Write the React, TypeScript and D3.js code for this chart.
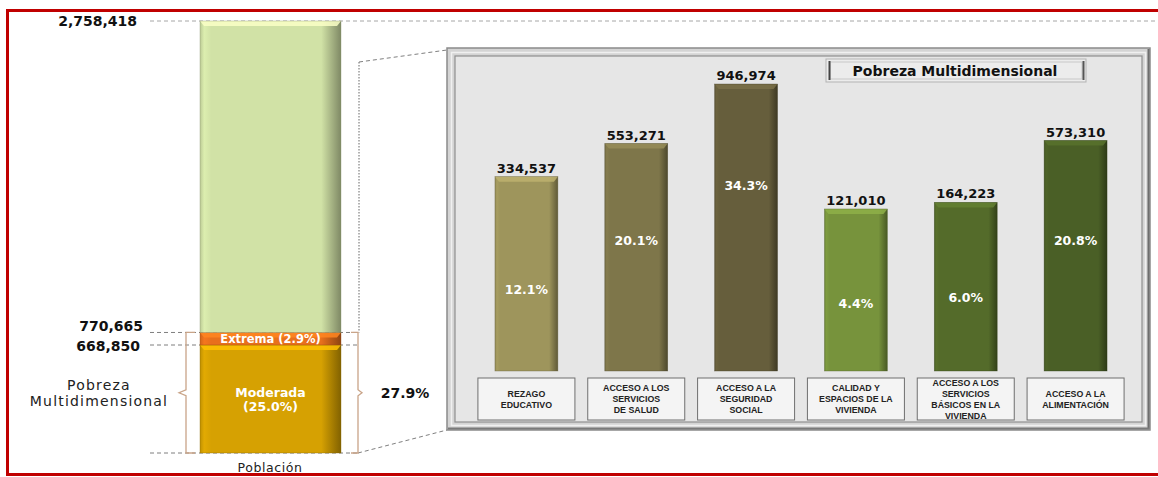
import React from "react";
import * as d3 from "d3";

// ---------- data ----------
const stackSegments = [
  { key: "Moderada", pct: 25.0, color: "#d6a102", label: ["Moderada", "(25.0%)"] },
  { key: "Extrema", pct: 2.9, color: "#e8701c", label: ["Extrema (2.9%)"] },
  { key: "No pobre", pct: 72.1, color: "#d1e2a6", label: [] as string[] },
];
const stackLevelLabels = [
  { pct: 100, text: "2,758,418" },
  { pct: 27.9, text: "770,665" },
  { pct: 25.0, text: "668,850" },
];
const povertyTotalPct = "27.9%";

const categories = [
  ["REZAGO", "EDUCATIVO"],
  ["ACCESO A LOS", "SERVICIOS", "DE SALUD"],
  ["ACCESO A LA", "SEGURIDAD", "SOCIAL"],
  ["CALIDAD Y", "ESPACIOS DE LA", "VIVIENDA"],
  ["ACCESO A LOS", "SERVICIOS", "BÁSICOS EN LA", "VIVIENDA"],
  ["ACCESO A LA", "ALIMENTACIÓN"],
];
const values = [334537, 553271, 946974, 121010, 164223, 573310];
const percents = ["12.1%", "20.1%", "34.3%", "4.4%", "6.0%", "20.8%"];
// estimated vertical anchor of the percent labels, in value units
const pctLabelAnchor = [-408000, -90000, 273000, -507000, -467000, -90000];
const barColors = ["#9e955c", "#7e764a", "#665e3c", "#77933c", "#546b2a", "#4a5f26"];

const W = 1158;
const H = 477;
const fmt = d3.format(",");

function Bevel({ x, y, w, h, color, id }: { x: number; y: number; w: number; h: number; color: string; id: string }) {
  const c = d3.color(color)!;
  const light = c.brighter(0.5).formatHex();
  const dark = c.darker(1.2).formatHex();
  const b = Math.min(5, h / 2);
  return (
    <g>
      <rect x={x} y={y} width={w} height={h} fill={`url(#${id})`} />
      <polygon points={`${x},${y} ${x + w},${y} ${x + w - 4},${y + b} ${x + 4},${y + b}`} fill={light} opacity={0.85} />
      <rect x={x} y={y} width={w} height={h} fill="none" stroke={dark} strokeWidth={0.6} opacity={0.6} />
    </g>
  );
}

function Grad({ id, color }: { id: string; color: string }) {
  const c = d3.color(color)!;
  return (
    <linearGradient id={id} x1="0" x2="1" y1="0" y2="0">
      <stop offset="0%" stopColor={c.darker(0.3).formatHex()} />
      <stop offset="3%" stopColor={c.brighter(0.15).formatHex()} />
      <stop offset="8%" stopColor={color} />
      <stop offset="86%" stopColor={color} />
      <stop offset="100%" stopColor={c.darker(1.4).formatHex()} />
    </linearGradient>
  );
}

export default function App() {
  // stacked population bar
  const yP = d3.scaleLinear().domain([0, 100]).range([453, 21]);
  const sbX0 = 200;
  const sbX1 = 341;
  let acc = 0;
  const segs = stackSegments.map((s) => {
    const y0 = acc;
    acc += s.pct;
    return { ...s, y0, y1: acc };
  });

  // right panel bars
  const x = d3
    .scaleBand<number>()
    .domain(values.map((_, i) => i))
    .range([471.5, 1130.5])
    .paddingInner(0.427)
    .paddingOuter(0.2135);
  const y = d3.scaleLinear().domain([-950000, 1000000]).range([371, 76]);
  const bw = x.bandwidth();

  const dash = "4,3";
  const grey = "#a6a6a6";
  const brace = "#c9a488";
  const yTop = yP(27.9);
  const yBot = yP(0);
  const yBrace = (yTop + yBot) / 2;

  return (
    <div style={{ position: "fixed", left: 0, top: 0 }}>
      <svg width={W} height={H} style={{ display: "block", background: "#fff" }}>
        <defs>
          {barColors.map((c, i) => (
            <Grad key={i} id={`bg${i}`} color={c} />
          ))}
          {segs.map((s, i) => (
            <Grad key={i} id={`sg${i}`} color={s.color} />
          ))}
        </defs>

        {/* red frame */}
        <path d={`M${W},10.5 H7.5 V474.5 H${W}`} fill="none" stroke="#c00000" strokeWidth={3} />

        {/* dashed guide lines */}
        <line x1={150} x2={W} y1={yP(100)} y2={yP(100)} stroke={grey} strokeDasharray={dash} />
        {[27.9, 25, 0].map((p) => (
          <line key={p} x1={150} x2={358} y1={yP(p)} y2={yP(p)} stroke="#7f7f7f" strokeDasharray={dash} />
        ))}
        <line x1={359} y1={62} x2={359} y2={yTop} stroke="#666" strokeDasharray="1.5,1.5" />
        <line x1={359} y1={62} x2={447} y2={50} stroke="#7f7f7f" strokeDasharray={dash} />
        <line x1={358} y1={yBot} x2={447} y2={430} stroke="#7f7f7f" strokeDasharray={dash} />

        {/* stacked bar */}
        {segs.map((s, i) => (
          <Bevel key={s.key} x={sbX0} y={yP(s.y1)} w={sbX1 - sbX0} h={yP(s.y0) - yP(s.y1)} color={s.color} id={`sg${i}`} />
        ))}
        {segs.map((s) => {
          const cy = (yP(s.y0) + yP(s.y1)) / 2;
          const lh = 14;
          return s.label.map((t, j) => (
            <text
              key={s.key + j}
              x={(sbX0 + sbX1) / 2}
              y={cy + (j - (s.label.length - 1) / 2) * lh}
              dy="0.36em"
              textAnchor="middle"
              fill="#fff"
              fontFamily="DejaVu Sans"
              fontWeight="bold"
              fontSize={s.label.length > 1 ? 12.5 : 11.5}
            >
              {t}
            </text>
          ));
        })}

        {/* level labels */}
        {stackLevelLabels.map((l, i) => (
          <text
            key={l.text}
            x={i === 0 ? 137 : i === 1 ? 143 : 140}
            y={yP(l.pct) + (i === 1 ? -7 : i === 2 ? 1 : 0)}
            dy="0.36em"
            textAnchor="end"
            fontFamily="DejaVu Sans"
            fontWeight="bold"
            fontSize={14}
            fill="#111"
          >
            {l.text}
          </text>
        ))}

        {/* braces */}
        <path
          d={`M195,${yTop} H186 V${yBrace - 3} L179,${yBrace} L186,${yBrace + 3} V${yBot} H195`}
          fill="none"
          stroke={brace}
          strokeWidth={1.3}
        />
        <path
          d={`M351,${yTop} H358 V${yBrace - 3} L362,${yBrace} L358,${yBrace + 3} V${yBot} H351`}
          fill="none"
          stroke={brace}
          strokeWidth={1.3}
        />
        <text x={99} y={yBrace - 8} dy="0.36em" textAnchor="middle" fontFamily="DejaVu Sans" fontSize={14} letterSpacing={1.2} fill="#222">
          Pobreza
        </text>
        <text x={99} y={yBrace + 8} dy="0.36em" textAnchor="middle" fontFamily="DejaVu Sans" fontSize={14} letterSpacing={1.2} fill="#222">
          Multidimensional
        </text>
        <text x={405} y={yBrace} dy="0.36em" textAnchor="middle" fontFamily="DejaVu Sans" fontWeight="bold" fontSize={14} fill="#111">
          {povertyTotalPct}
        </text>
        <text x={270} y={467} dy="0.36em" textAnchor="middle" fontFamily="DejaVu Sans" fontSize={12.5} letterSpacing={0.6} fill="#222">
          Población
        </text>

        {/* panel */}
        <rect x={447} y={48} width={703} height={382} fill="#d4d4d4" stroke="#8a8a8a" strokeWidth={1.5} />
        <rect x={451.5} y={52.5} width={694} height={373} fill="none" stroke="#f0f0f0" strokeWidth={1.5} />
        <rect x={455} y={56} width={687} height={366} fill="#e6e6e6" stroke="#8f8f8f" strokeWidth={1.2} />
        <line x1={1148.5} y1={49} x2={1148.5} y2={429} stroke="#6e6e6e" strokeWidth={2} />
        <line x1={448} y1={428.5} x2={1149} y2={428.5} stroke="#7a7a7a" strokeWidth={2} />

        {/* title box */}
        <rect x={826} y={59} width={260} height={23} fill="#ececec" stroke="#b3b3b3" />
        <rect x={830} y={62} width={252} height={17} fill="none" stroke="#c8c8c8" />
        <line x1={829.5} y1={61} x2={829.5} y2={80} stroke="#444" strokeWidth={2} />
        <line x1={1083.5} y1={61} x2={1083.5} y2={80} stroke="#555" strokeWidth={2} />
        <text x={955} y={71} dy="0.36em" textAnchor="middle" fontFamily="DejaVu Sans" fontWeight="bold" fontSize={14} fill="#111">
          Pobreza Multidimensional
        </text>

        {/* bars */}
        {values.map((v, i) => {
          const bx = x(i)!;
          const top = y(v);
          const bot = y.range()[0];
          return (
            <g key={i}>
              <Bevel x={bx} y={top} w={bw} h={bot - top} color={barColors[i]} id={`bg${i}`} />
              <text
                x={bx + bw / 2}
                y={top - 4}
                textAnchor="middle"
                fontFamily="DejaVu Sans"
                fontWeight="bold"
                fontSize={13}
                fill="#111"
              >
                {fmt(v)}
              </text>
              <text
                x={bx + bw / 2}
                y={y(pctLabelAnchor[i])}
                dy="0.36em"
                textAnchor="middle"
                fontFamily="DejaVu Sans"
                fontWeight="bold"
                fontSize={12.5}
                fill="#fff"
              >
                {percents[i]}
              </text>
            </g>
          );
        })}

        {/* category boxes */}
        {categories.map((lines, i) => {
          const cx = x(i)! + bw / 2;
          const bwBox = 97;
          const lh = 11;
          return (
            <g key={i}>
              <rect x={cx - bwBox / 2} y={378} width={bwBox} height={42} fill="#f4f4f4" stroke="#6f6f6f" strokeWidth={1} />
              {lines.map((t, j) => (
                <text
                  key={j}
                  x={cx}
                  y={399 + (j - (lines.length - 1) / 2) * lh}
                  dy="0.36em"
                  textAnchor="middle"
                  fontFamily="Liberation Sans"
                  fontWeight="bold"
                  fontSize={8.8}
                  fill="#222"
                >
                  {t}
                </text>
              ))}
            </g>
          );
        })}
      </svg>
    </div>
  );
}
